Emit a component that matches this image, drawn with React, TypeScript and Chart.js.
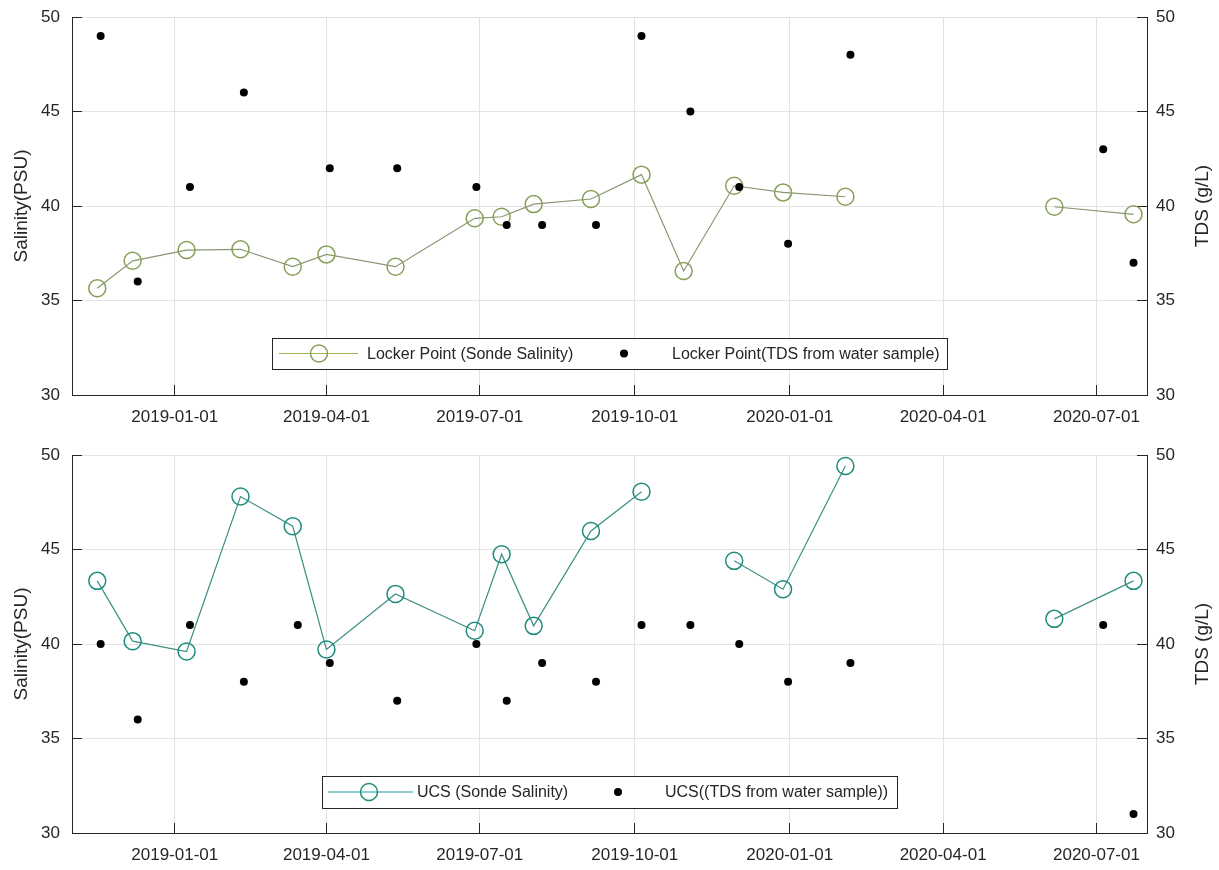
import React, { useEffect, useRef } from 'react';
import { Chart, registerables } from 'chart.js';

Chart.register(...registerables);

// ---------- data ----------
const xMinDate = '2018-11-01';
const xMaxDate = '2020-07-31';
const tickDates = ['2019-01-01', '2019-04-01', '2019-07-01', '2019-10-01', '2020-01-01', '2020-04-01', '2020-07-01'];
const tickLabels = ['2019-01-01', '2019-04-01', '2019-07-01', '2019-10-01', '2020-01-01', '2020-04-01', '2020-07-01'];
const yMin = 30;
const yMax = 50;
const yStep = 5;

const leftAxisTitle = 'Salinity(PSU)';
const rightAxisTitle = 'TDS (g/L)';

// Locker Point — sonde salinity (null marks a break in the line)
const lockerSondeDates = ['2018-11-16', '2018-12-07', '2019-01-08', '2019-02-09', '2019-03-12', '2019-04-01', '2019-05-12', '2019-06-28', '2019-07-14', '2019-08-02', '2019-09-05', '2019-10-05', '2019-10-30', '2019-11-29', '2019-12-28', '2020-02-03', '2020-04-15', '2020-06-06', '2020-07-23'];
const lockerSondeValues = [35.65, 37.1, 37.67, 37.71, 36.79, 37.44, 36.79, 39.35, 39.43, 40.1, 40.37, 41.66, 36.56, 41.07, 40.72, 40.49, null, 39.96, 39.56];

// Locker Point — TDS from water sample
const lockerTdsDates = ['2018-11-18', '2018-12-10', '2019-01-10', '2019-02-11', '2019-04-03', '2019-05-13', '2019-06-29', '2019-07-17', '2019-08-07', '2019-09-08', '2019-10-05', '2019-11-03', '2019-12-02', '2019-12-31', '2020-02-06', '2020-07-05', '2020-07-23'];
const lockerTdsValues = [49, 36, 41, 46, 42, 42, 41, 39, 39, 39, 49, 45, 41, 38, 48, 43, 37];

// UCS — sonde salinity (null marks a break in the line)
const ucsSondeDates = ['2018-11-16', '2018-12-07', '2019-01-08', '2019-02-09', '2019-03-12', '2019-04-01', '2019-05-12', '2019-06-28', '2019-07-14', '2019-08-02', '2019-09-05', '2019-10-05', '2019-11-01', '2019-11-29', '2019-12-28', '2020-02-03', '2020-04-15', '2020-06-06', '2020-07-23'];
const ucsSondeValues = [43.34, 40.15, 39.6, 47.8, 46.23, 39.71, 42.65, 40.7, 44.75, 40.96, 45.98, 48.06, null, 44.4, 42.9, 49.42, null, 41.33, 43.34];

// UCS — TDS from water sample
const ucsTdsDates = ['2018-11-18', '2018-12-10', '2019-01-10', '2019-02-11', '2019-03-15', '2019-04-03', '2019-05-13', '2019-06-29', '2019-07-17', '2019-08-07', '2019-09-08', '2019-10-05', '2019-11-03', '2019-12-02', '2019-12-31', '2020-02-06', '2020-07-05', '2020-07-23'];
const ucsTdsValues = [40, 36, 41, 38, 41, 39, 37, 40, 37, 39, 38, 41, 41, 40, 38, 39, 41, 31];

// ---------- helpers ----------
const toDay = (s: string) => {
  const [y, m, d] = s.split('-').map(Number);
  return Date.UTC(y, m - 1, d) / 86400000;
};

const FONT = '"Liberation Sans", Arial, Helvetica, sans-serif';
const TEXT = '#262626';
const GRID = '#e3e3e3';

type LegendGeom = {
  x1: number; x2: number; y1: number; y2: number;
  lineX1: number; lineX2: number; circleX: number; text1X: number; dotX: number; text2X: number;
};

type PanelCfg = {
  sondeLabel: string;
  tdsLabel: string;
  sondeDates: string[];
  sondeValues: (number | null)[];
  tdsDates: string[];
  tdsValues: number[];
  lineColor: string;
  circleColor: string;
  legendLineColor: string;
  topPad: number;
  xAxisHeight: number;
  legend: LegendGeom;
};

const panels: PanelCfg[] = [
  {
    sondeLabel: 'Locker Point (Sonde Salinity)',
    tdsLabel: 'Locker Point(TDS from water sample)',
    sondeDates: lockerSondeDates,
    sondeValues: lockerSondeValues,
    tdsDates: lockerTdsDates,
    tdsValues: lockerTdsValues,
    lineColor: '#8a9670',
    circleColor: '#86a058',
    legendLineColor: '#a0b450',
    topPad: 17,
    xAxisHeight: 40,
    legend: { x1: 272, x2: 947, y1: 338, y2: 369, lineX1: 279, lineX2: 358, circleX: 319, text1X: 367, dotX: 624, text2X: 672 },
  },
  {
    sondeLabel: 'UCS (Sonde Salinity)',
    tdsLabel: 'UCS((TDS from water sample))',
    sondeDates: ucsSondeDates,
    sondeValues: ucsSondeValues,
    tdsDates: ucsTdsDates,
    tdsValues: ucsTdsValues,
    lineColor: '#3a8f86',
    circleColor: '#1e8c7c',
    legendLineColor: '#24a0a0',
    topPad: 20,
    xAxisHeight: 37,
    legend: { x1: 322, x2: 897, y1: 341, y2: 373, lineX1: 328, lineX2: 413, circleX: 369, text1X: 417, dotX: 618, text2X: 665 },
  },
];

function makeOverlayPlugin(p: PanelCfg) {
  return {
    id: 'overlay',
    afterDraw(chart: any) {
      const ctx = chart.ctx as CanvasRenderingContext2D;
      const area = chart.chartArea;
      const midY = (area.top + area.bottom) / 2;
      ctx.save();
      // axis titles
      ctx.fillStyle = TEXT;
      ctx.font = `19px ${FONT}`;
      ctx.textAlign = 'center';
      ctx.textBaseline = 'middle';
      ctx.save();
      ctx.translate(22, midY);
      ctx.rotate(-Math.PI / 2);
      ctx.fillText(leftAxisTitle, 0, 0);
      ctx.restore();
      ctx.save();
      ctx.translate(1203, midY);
      ctx.rotate(-Math.PI / 2);
      ctx.fillText(rightAxisTitle, 0, 0);
      ctx.restore();

      // legend
      const L = p.legend;
      const cy = (L.y1 + L.y2) / 2;
      ctx.fillStyle = '#ffffff';
      ctx.fillRect(L.x1, L.y1, L.x2 - L.x1, L.y2 - L.y1);
      ctx.strokeStyle = TEXT;
      ctx.lineWidth = 1;
      ctx.strokeRect(L.x1 + 0.5, L.y1 + 0.5, L.x2 - L.x1, L.y2 - L.y1);
      ctx.strokeStyle = p.legendLineColor;
      ctx.lineWidth = 1.2;
      ctx.beginPath();
      ctx.moveTo(L.lineX1, cy);
      ctx.lineTo(L.lineX2, cy);
      ctx.stroke();
      ctx.strokeStyle = p.circleColor;
      ctx.lineWidth = 1.5;
      ctx.beginPath();
      ctx.arc(L.circleX, cy, 8.5, 0, Math.PI * 2);
      ctx.stroke();
      ctx.fillStyle = '#000000';
      ctx.beginPath();
      ctx.arc(L.dotX, cy, 4, 0, Math.PI * 2);
      ctx.fill();
      ctx.fillStyle = TEXT;
      ctx.font = `16px ${FONT}`;
      ctx.textAlign = 'left';
      ctx.textBaseline = 'middle';
      ctx.fillText(p.sondeLabel, L.text1X, cy + 1);
      ctx.fillText(p.tdsLabel, L.text2X, cy + 1);
      ctx.restore();
    },
  };
}

function Panel({ cfg }: { cfg: PanelCfg }) {
  const ref = useRef<HTMLCanvasElement | null>(null);
  useEffect(() => {
    if (!ref.current) return;
    const sondeData = cfg.sondeDates.map((d, i) => ({ x: toDay(d), y: cfg.sondeValues[i] }));
    const tdsData = cfg.tdsDates.map((d, i) => ({ x: toDay(d), y: cfg.tdsValues[i] }));
    const tickFont = { family: FONT, size: 17 };
    const fitV = (s: any) => {
      s.width = 72;
      s.paddingTop = 0;
      s.paddingBottom = 0;
    };
    const chart = new Chart(ref.current, {
      type: 'line',
      data: {
        datasets: [
          {
            label: cfg.tdsLabel,
            data: tdsData as any,
            yAxisID: 'y1',
            showLine: false,
            pointRadius: 4,
            pointHoverRadius: 4,
            pointBackgroundColor: '#000000',
            pointBorderColor: '#000000',
            pointBorderWidth: 0,
            borderColor: '#000000',
          },
          {
            label: cfg.sondeLabel,
            data: sondeData as any,
            yAxisID: 'y',
            spanGaps: false,
            borderColor: cfg.lineColor,
            borderWidth: 1.2,
            tension: 0,
            pointRadius: 8.5,
            pointHoverRadius: 8.5,
            pointBorderWidth: 1.5,
            pointBorderColor: cfg.circleColor,
            pointBackgroundColor: 'rgba(0,0,0,0)',
          },
        ],
      },
      options: {
        animation: false,
        responsive: false,
        devicePixelRatio: 1,
        events: [],
        layout: { padding: { top: cfg.topPad, left: 0, right: 0, bottom: 0 } },
        plugins: { legend: { display: false }, tooltip: { enabled: false } },
        scales: {
          x: {
            type: 'linear',
            min: toDay(xMinDate),
            max: toDay(xMaxDate),
            afterBuildTicks: (s: any) => {
              s.ticks = tickDates.map((d) => ({ value: toDay(d) }));
            },
            afterFit: (s: any) => {
              s.height = cfg.xAxisHeight;
              s.paddingLeft = 0;
              s.paddingRight = 0;
            },
            grid: { color: GRID, lineWidth: 1, tickLength: -10, tickColor: TEXT, drawTicks: true },
            border: { display: true, color: TEXT, width: 1 },
            ticks: {
              font: tickFont,
              color: TEXT,
              padding: 22,
              maxRotation: 0,
              autoSkip: false,
              callback: (_v: any, i: number) => tickLabels[i] ?? '',
            },
          },
          y: {
            type: 'linear',
            position: 'left',
            min: yMin,
            max: yMax,
            afterFit: fitV,
            grid: { color: GRID, lineWidth: 1, tickLength: -10, tickColor: TEXT, drawTicks: true },
            border: { display: true, color: TEXT, width: 1 },
            ticks: { stepSize: yStep, font: tickFont, color: TEXT, padding: 22 },
          },
          y1: {
            type: 'linear',
            position: 'right',
            min: yMin,
            max: yMax,
            afterFit: fitV,
            grid: { drawOnChartArea: false, tickLength: -10, tickColor: TEXT, drawTicks: true },
            border: { display: true, color: TEXT, width: 1 },
            ticks: { stepSize: yStep, font: tickFont, color: TEXT, padding: 19 },
          },
        },
      } as any,
      plugins: [makeOverlayPlugin(cfg)],
    });
    return () => chart.destroy();
  }, [cfg]);
  return <canvas ref={ref} width={1219} height={435} style={{ display: 'block', width: 1219, height: 435 }} />;
}

export default function App() {
  return (
    <div style={{ position: 'absolute', left: 0, top: 0, width: 1219, height: 870, background: '#ffffff' }}>
      {panels.map((p, i) => (
        <Panel key={i} cfg={p} />
      ))}
    </div>
  );
}
